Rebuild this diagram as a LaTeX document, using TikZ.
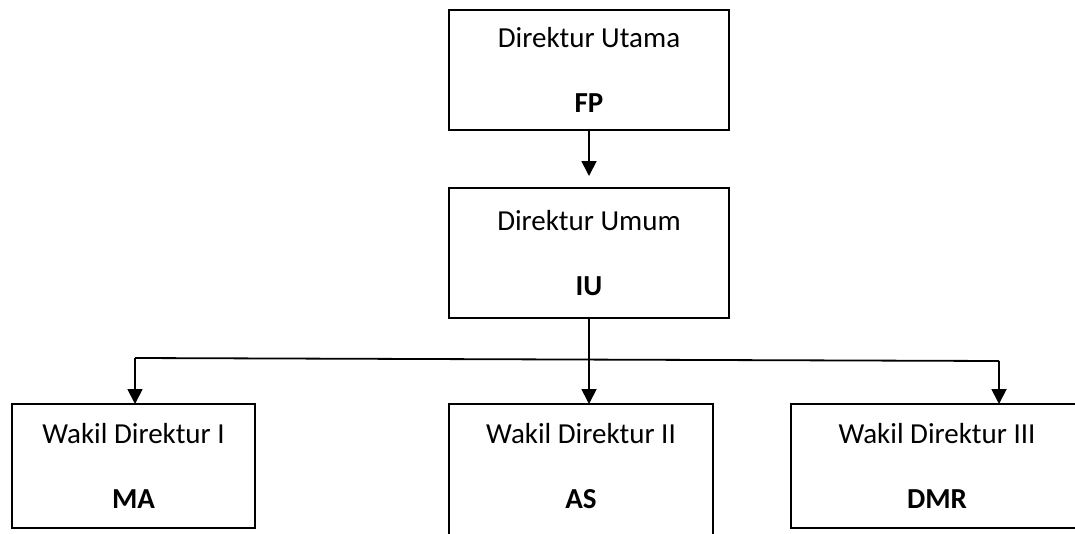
\documentclass[tikz,border=0pt]{standalone}
\usepackage{fontspec}
\setmainfont{Carlito}
\usetikzlibrary{arrows.meta}

\tikzset{
  jabatan/.style={draw, rectangle, line width=1.8pt, align=center,
    inner sep=0pt, outer sep=0pt, font=\fontsize{29}{65}\selectfont},
  garis/.style={line width=1.8pt},
  panah/.style={garis, -{Triangle[width=15pt,length=15pt]}}
}

\begin{document}
\begin{tikzpicture}[x=1pt,y=-1pt]
  \path[use as bounding box, clip] (0,0) rectangle (1075,533);

  % pimpinan
  \node[jabatan, minimum width=280, minimum height=120] (utama) at (589,70) {Direktur Utama\\\textbf{FP}};
  \node[jabatan, minimum width=280, minimum height=130] (umum) at (589,253) {Direktur Umum\\\textbf{IU}};

  % wakil direktur
  \node[jabatan, minimum width=243, minimum height=124] (wakil1) at (133.5,466) {Wakil Direktur I\\\textbf{MA}};
  \node[jabatan, draw=none, minimum width=264, minimum height=124] (wakil2) at (581,466) {Wakil Direktur II\\\textbf{AS}};
  \node[jabatan, draw=none, minimum width=292, minimum height=124] (wakil3) at (937,466) {Wakil Direktur III\\\textbf{DMR}};
  \draw[garis] ([yshift=-30pt]wakil2.south west) |- (wakil2.north east) -- ([yshift=-30pt]wakil2.south east);
  \draw[garis] ([xshift=30pt]wakil3.north east) -| (wakil3.south west) -- ([xshift=30pt]wakil3.south east);

  % garis komando
  \coordinate (cabang) at (589,359);
  \coordinate (kiri) at (135,358);
  \coordinate (kanan) at (999,361);

  \draw[panah, shorten >=12pt] (utama.south) -- (umum.north);
  \draw[panah] (umum.south) -- (umum.south |- wakil2.north);
  \draw[garis] (kiri) -- (kanan);
  \draw[panah] (kiri) -- (kiri |- wakil1.north);
  \draw[panah] (kanan) -- (kanan |- wakil3.north);
\end{tikzpicture}
\end{document}
